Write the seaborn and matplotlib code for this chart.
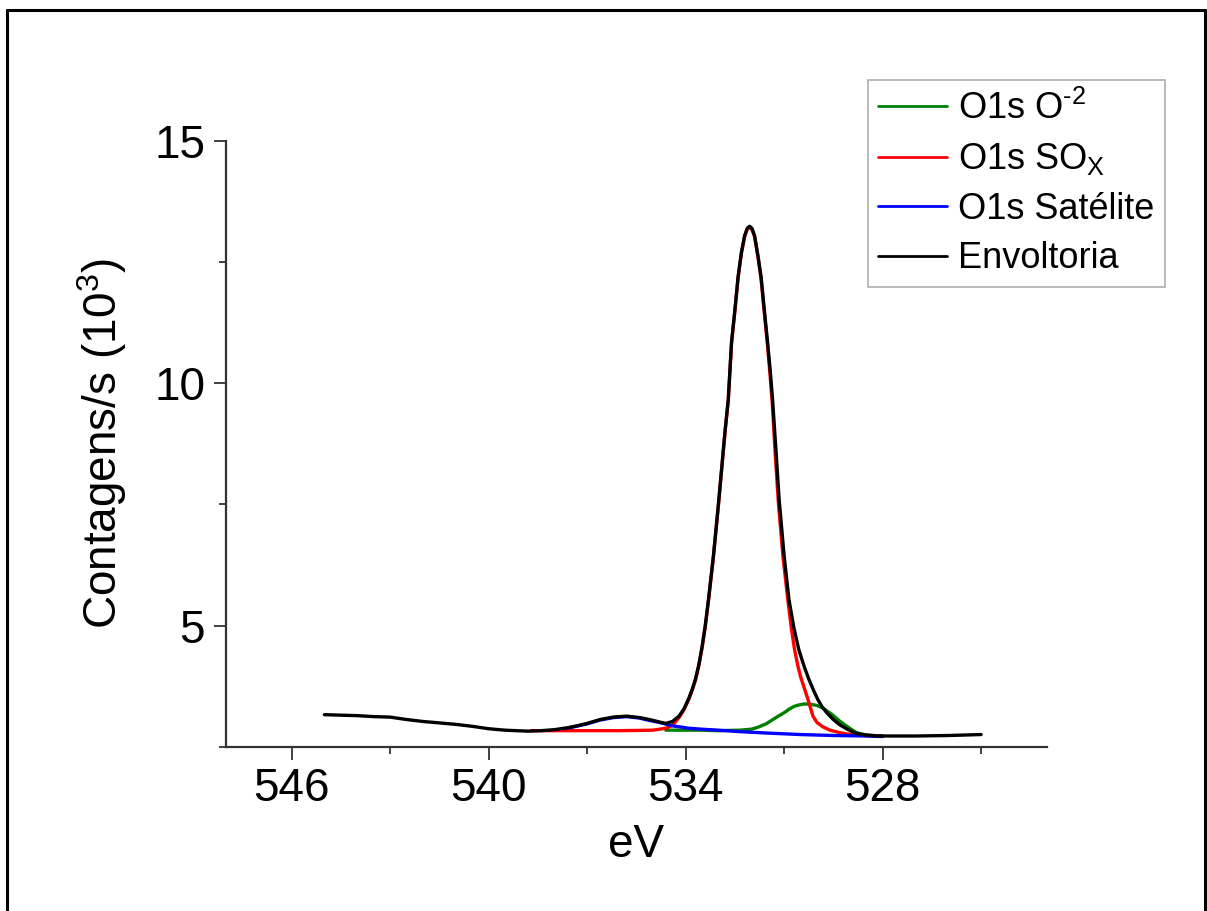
import numpy as np
import pandas as pd
import matplotlib
matplotlib.use("Agg")
import matplotlib.pyplot as plt
from matplotlib.lines import Line2D
from matplotlib.ticker import MultipleLocator
import seaborn as sns

# ---- data (eV, counts/s in 10^3) ----
env_ev = [545.0, 544.5, 544.0, 543.5, 543.0, 542.5, 542.0, 541.5, 541.0, 540.5,
          540.0, 539.5, 538.8, 538.4, 538.0, 537.6, 537.3, 537.0, 536.6, 536.2,
          535.8, 535.4, 535.1, 534.8, 534.6, 534.4, 534.2, 534.05, 533.9, 533.8,
          533.7, 533.6, 533.5, 533.4, 533.3, 533.15, 533.0, 532.9, 532.8, 532.7,
          532.6, 532.5, 532.4, 532.3, 532.2, 532.12, 532.05, 531.98, 531.9, 531.8,
          531.7, 531.6, 531.5, 531.42, 531.35, 531.25, 531.15, 531.0, 530.85, 530.7,
          530.55, 530.4, 530.25, 530.1, 529.97, 529.85, 529.7, 529.5, 529.3, 529.1,
          528.9, 528.7, 528.5, 528.2, 528.0, 527.5, 527.0, 526.0, 525.0]
env_cps = [3.16, 3.15, 3.14, 3.12, 3.11, 3.06, 3.02, 2.99, 2.96, 2.92,
           2.87, 2.84, 2.82, 2.83, 2.85, 2.89, 2.93, 2.98, 3.06, 3.11,
           3.13, 3.10, 3.06, 3.01, 2.98, 3.02, 3.13, 3.28, 3.50, 3.68,
           3.89, 4.18, 4.55, 5.00, 5.55, 6.45, 7.50, 8.25, 9.00, 9.66,
           10.85, 11.50, 12.20, 12.70, 13.05, 13.20, 13.24, 13.20, 13.05, 12.65,
           12.20, 11.50, 10.83, 10.25, 9.66, 8.65, 7.60, 6.45, 5.53, 4.95,
           4.50, 4.18, 3.90, 3.66, 3.47, 3.33, 3.20, 3.06, 2.95, 2.87,
           2.80, 2.76, 2.74, 2.72, 2.72, 2.72, 2.72, 2.73, 2.75]

sox_ev = [538.7, 537.0, 536.0, 535.0, 534.6, 534.4, 534.2, 534.05, 533.9, 533.8,
          533.7, 533.6, 533.5, 533.4, 533.3, 533.15, 533.0, 532.9, 532.8, 532.7,
          532.6, 532.5, 532.4, 532.3, 532.2, 532.12, 532.05, 531.98, 531.9, 531.8,
          531.7, 531.6, 531.5, 531.43, 531.36, 531.27, 531.17, 531.03, 530.88, 530.78,
          530.68, 530.58, 530.5, 530.38, 530.27, 530.12, 530.0, 529.82, 529.6, 529.31,
          528.9, 528.5, 528.0]
sox_cps = [2.83, 2.83, 2.83, 2.84, 2.88, 2.94, 3.10, 3.26, 3.48, 3.66,
           3.87, 4.16, 4.53, 4.98, 5.53, 6.43, 7.48, 8.23, 8.98, 9.64,
           10.83, 11.48, 12.18, 12.68, 13.03, 13.18, 13.22, 13.18, 13.03, 12.63,
           12.15, 11.45, 10.75, 10.20, 9.60, 8.55, 7.50, 6.40, 5.50, 4.95,
           4.50, 4.17, 3.95, 3.70, 3.47, 3.13, 3.00, 2.91, 2.84, 2.79,
           2.74, 2.73, 2.72]

o2_ev = [534.6, 533.5, 533.0, 532.35, 532.0, 531.8, 531.55, 531.34, 531.15, 531.0,
         530.83, 530.7, 530.55, 530.4, 530.27, 530.15, 530.0, 529.82, 529.7, 529.55,
         529.43, 529.31, 529.15, 529.0, 528.8, 528.5, 528.0]
o2_cps = [2.84, 2.84, 2.83, 2.84, 2.86, 2.90, 2.97, 3.06, 3.14, 3.20,
          3.28, 3.33, 3.36, 3.38, 3.38, 3.37, 3.35, 3.30, 3.24, 3.17,
          3.10, 3.03, 2.95, 2.88, 2.79, 2.74, 2.72]

sat_ev = [537.6, 537.0, 536.6, 536.2, 535.8, 535.4, 535.1, 534.8, 534.4, 533.9,
          533.5, 533.0, 532.35, 531.5, 530.5, 529.5, 528.5, 528.0]
sat_cps = [2.88, 2.97, 3.05, 3.10, 3.12, 3.09, 3.04, 3.00, 2.93, 2.88,
           2.86, 2.84, 2.81, 2.78, 2.75, 2.73, 2.72, 2.71]

series_names = ["O1s O$^{\u20102}$", r"O1s SO$_{\mathregular{X}}$", "O1s Satélite", "Envoltoria"]
series_colors = ["#008000", "#ff0000", "#0000ff", "#000000"]

# -----------------------------
# build long table
# -----------------------------
frames = []
for name, ev, cps in zip(series_names,
                         [o2_ev, sox_ev, sat_ev, env_ev],
                         [o2_cps, sox_cps, sat_cps, env_cps]):
    frames.append(pd.DataFrame({"eV": ev, "cps": cps, "serie": name}))
spec = pd.concat(frames, ignore_index=True)

# -----------------------------
# style
# -----------------------------
sns.set_style("ticks")
plt.rcParams["font.family"] = ["Liberation Sans", "DejaVu Sans"]
plt.rcParams["mathtext.default"] = "regular"
plt.rcParams["axes.edgecolor"] = "#333333"
plt.rcParams["text.color"] = "black"
plt.rcParams["axes.labelcolor"] = "black"
plt.rcParams["xtick.labelcolor"] = "black"
plt.rcParams["ytick.labelcolor"] = "black"

fig = plt.figure(figsize=(12.07, 9.11), dpi=100)
ax = fig.add_axes([0.1872, 0.1804, 0.6800, 0.6648])

for name, col in zip(series_names, series_colors):
    sns.lineplot(data=spec[spec["serie"] == name], x="eV", y="cps",
                 color=col, lw=2.4, label=name, ax=ax, sort=False,
                 solid_joinstyle="round", solid_capstyle="round")

ax.set_xlim(548, 523)
ax.set_ylim(2.5, 15)
ax.xaxis.set_major_locator(MultipleLocator(6))
ax.xaxis.set_minor_locator(MultipleLocator(3))
ax.yaxis.set_major_locator(MultipleLocator(5))
ax.yaxis.set_minor_locator(MultipleLocator(2.5))
ax.set_yticks([5, 10, 15])
ax.set_xticks([546, 540, 534, 528])

sns.despine(ax=ax)
for sp in ["left", "bottom"]:
    ax.spines[sp].set_linewidth(1.6)
ax.tick_params(which="major", length=9, width=1.3, labelsize=33, pad=6, color="#333333")
ax.tick_params(which="minor", length=5, width=1.3, color="#333333")

ax.set_xlabel("eV", fontsize=33, labelpad=8)
ax.set_ylabel(r"Contagens/s (10$^3$)", fontsize=33, labelpad=18)

leg = ax.legend(loc="upper right", bbox_to_anchor=(0.9652, 0.9122),
                bbox_transform=fig.transFigure, fontsize=26, frameon=True,
                fancybox=False, edgecolor="#999999", handlelength=1.9,
                handletextpad=0.3, labelspacing=0.4, borderpad=0.3,
                borderaxespad=0)
leg.get_frame().set_linewidth(1.2)
for h in leg.get_lines():
    h.set_linewidth(2.0)

# outer frame of the original screenshot
fig.add_artist(Line2D([0.0058, 0.0058], [0.0, 0.989], color="black", lw=2.2))
fig.add_artist(Line2D([0.0058, 0.998], [0.989, 0.989], color="black", lw=2.2))
fig.add_artist(Line2D([0.998, 0.998], [0.0, 0.989], color="black", lw=2.2))

fig.savefig("out.png", dpi=100)
